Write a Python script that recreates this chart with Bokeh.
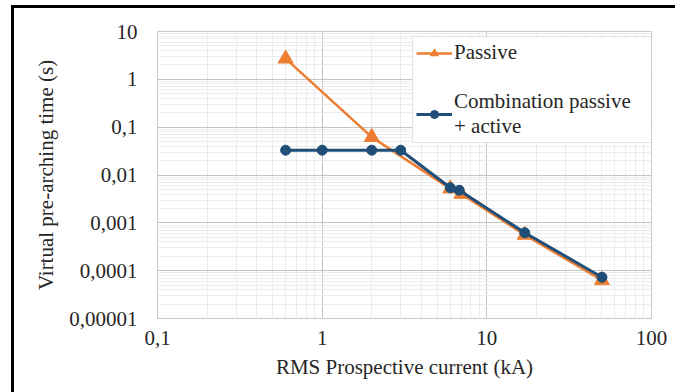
from bokeh.plotting import figure
from bokeh.models import FixedTicker, Legend, LegendItem
from bokeh.embed import file_html
from bokeh.resources import INLINE

# ---- data ----
passive_x = [0.6, 2, 6, 7, 17, 50]
passive_y = [2.7, 0.062, 0.0052, 0.0040, 0.00056, 0.000063]
combo_x = [0.6, 1, 2, 3, 6, 6.8, 17, 50]
combo_y = [0.033, 0.033, 0.033, 0.033, 0.0054, 0.0048, 0.00062, 0.000073]

x_ticks = [0.1, 1, 10, 100]
x_labels = ["0,1", "1", "10", "100"]
y_ticks = [0.00001, 0.0001, 0.001, 0.01, 0.1, 1, 10]
y_labels = ["0,00001", "0,0001", "0,001", "0,01", "0,1", "1", "10"]

x_minor = [k * d for d in [0.1, 1, 10] for k in range(2, 10)]
y_minor = [k * d for d in [0.00001, 0.0001, 0.001, 0.01, 0.1, 1] for k in range(2, 10)]

ORANGE = "#ED7D31"
BLUE = "#1F4E79"
FONT = "Times New Roman, Liberation Serif, serif"
TXT = "#262626"

p = figure(width=664, height=387, x_axis_type="log", y_axis_type="log",
           x_range=(0.1, 100), y_range=(0.00001, 10),
           output_backend="svg", toolbar_location=None,
           min_border_left=143, min_border_right=27,
           min_border_top=23, min_border_bottom=77)
p.styles = {"border-left": "3px solid black", "border-top": "3px solid black",
            "margin-left": "11px", "margin-top": "5px"}
p.outline_line_color = "#c8c8c8"
p.outline_line_width = 1

# grids
p.xgrid.ticker = FixedTicker(ticks=x_ticks, minor_ticks=x_minor)
p.ygrid.ticker = FixedTicker(ticks=y_ticks, minor_ticks=y_minor)
for g in (p.xgrid[0], p.ygrid[0]):
    g.grid_line_color = "#c4c4c4"
    g.grid_line_width = 1
    g.minor_grid_line_color = "#ececec"
    g.minor_grid_line_width = 1

# axes
p.xaxis.ticker = FixedTicker(ticks=x_ticks)
p.yaxis.ticker = FixedTicker(ticks=y_ticks)
p.xaxis.major_label_overrides = dict(zip(x_ticks, x_labels))
p.yaxis.major_label_overrides = dict(zip(y_ticks, y_labels))
for ax in (p.xaxis[0], p.yaxis[0]):
    ax.axis_line_color = None
    ax.major_tick_line_color = None
    ax.minor_tick_line_color = None
    ax.major_tick_out = 0
    ax.major_tick_in = 0
    ax.minor_tick_out = 0
    ax.minor_tick_in = 0
    ax.major_label_text_font = FONT
    ax.major_label_text_font_size = "21px"
    ax.major_label_text_color = TXT
    ax.axis_label_text_font = FONT
    ax.axis_label_text_font_size = "21px"
    ax.axis_label_text_font_style = "normal"
    ax.axis_label_text_color = TXT

p.xaxis.axis_label = "RMS Prospective current (kA)"
p.yaxis.axis_label = "Virtual pre-arching time (s)"
p.xaxis.major_label_standoff = 12
p.xaxis.axis_label_standoff = 7
p.yaxis.major_label_standoff = 20
p.yaxis.axis_label_standoff = 8

# series
l1 = p.line(passive_x, passive_y, line_color=ORANGE, line_width=2.5)
m1 = p.scatter(passive_x, passive_y, marker="triangle", size=15,
               fill_color=ORANGE, line_color=ORANGE)
l2 = p.line(combo_x, combo_y, line_color=BLUE, line_width=3)
m2 = p.scatter(combo_x, combo_y, marker="circle", size=10,
               fill_color=BLUE, line_color=BLUE)

legend = Legend(items=[
    LegendItem(label="Passive", renderers=[l1, m1]),
    LegendItem(label="Combination passive\n+ active", renderers=[l2, m2]),
], location=(255, 175),
    label_text_font=FONT, label_text_font_size="21px",
    label_text_font_style="normal", label_text_color=TXT)
legend.border_line_color = "#c8c8c8"
legend.border_line_width = 1
legend.background_fill_color = "white"
legend.background_fill_alpha = 1
legend.padding = 3
legend.spacing = 24
legend.margin = 0
legend.glyph_width = 36
legend.glyph_height = 20
legend.label_standoff = 2
legend.label_width = 196
legend.label_height = 25
p.add_layout(legend, "center")

open("out.html", "w").write(file_html(p, INLINE))
